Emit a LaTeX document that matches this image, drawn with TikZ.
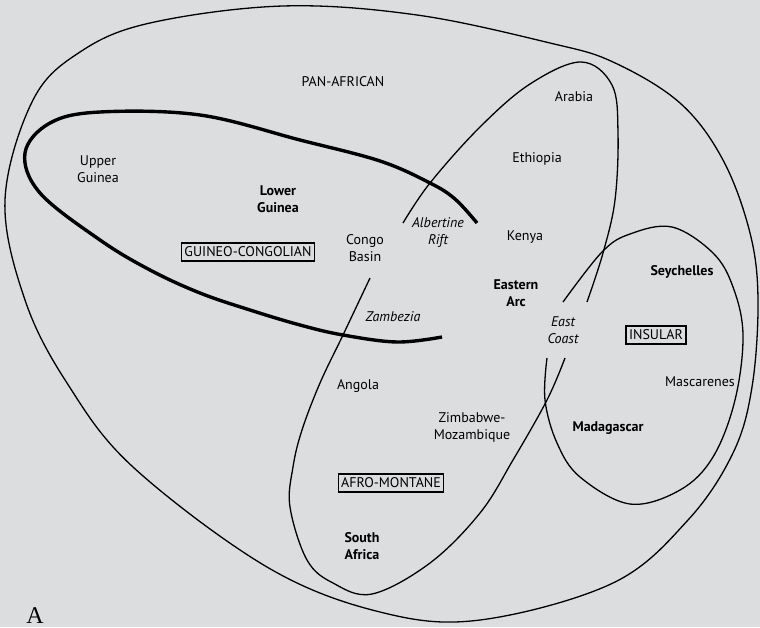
\documentclass[tikz,border=0pt]{standalone}
\usepackage{fontspec}
\setmainfont{PT Sans}
\newfontfamily\panelfont{Liberation Serif}
\definecolor{bggray}{RGB}{220,221,223}
\tikzset{
  region/.style={line width=1.3pt},
  guineo/.style={line width=3.4pt},
  place/.style={font=\fontsize{14}{17}\selectfont, align=center, inner sep=0pt},
  bplace/.style={place, font=\fontsize{14}{17}\selectfont\bfseries},
  iplace/.style={place, font=\fontsize{14}{17}\selectfont\itshape},
  realm/.style={place, draw, line width=1.2pt, inner xsep=3pt, inner ysep=4pt}
}
\begin{document}
\begin{tikzpicture}[x=1pt,y=-1pt]
\fill[bggray] (0,0) rectangle (760,627);
\useasboundingbox (0,0) rectangle (760,627);
% pan-african
\draw[region] plot[smooth cycle, tension=0.6] coordinates {
  (150,23) (283,6) (417,15) (550,43) (613,62) (680,103) (723,160) (750,233)
  (758,300) (752,387) (733,453) (688,520) (613,583) (480,620) (380,612)
  (267,567) (133,467) (67,383) (25,300) (5,200) (33,100) (80,52)};
% guineo-congolian
\draw[guineo] plot[smooth, tension=0.6] coordinates {
  (477,223) (455,199) (430,183) (380,161) (300,140) (200,115) (100,112)
  (50,123) (25,153) (40,193) (100,240) (150,270) (200,293) (250,310)
  (300,325) (343,335) (397,342) (442,337)};
% afro-montane
\draw[region] plot[smooth, tension=0.6] coordinates {
  (370,278) (343,335) (320,383) (302,430) (293,467) (290,507) (307,560)
  (333,583) (372,594) (430,563) (480,513) (513,460) (547,400) (565,358)};
\draw[region] plot[smooth, tension=0.6] coordinates {
  (587,302) (603,253) (615,200) (618,133) (612,85) (581,62) (530,84)
  (480,127) (430,183) (403,223)};
% insular
\draw[region] plot[smooth, tension=0.6] coordinates {
  (563,302) (602,252) (630,234) (672,227) (713,253) (733,287) (743,335)
  (735,400) (713,457) (680,490) (630,504) (580,477) (557,443) (545,400)
  (547,358)};
% labels
\node[place] (panafrican) at (343,82) {PAN-AFRICAN};
\node[place] (upguinea) at (98,169) {Upper\\Guinea};
\node[bplace] (lowguinea) at (278,199) {Lower\\Guinea};
\node[realm] (guineobox) at (248,252) {GUINEO-CONGOLIAN};
\node[place] (congo) at (365,248) {Congo\\Basin};
\node[iplace] (albertine) at (438,232) {Albertine\\Rift};
\node[place] (arabia) at (574,97) {Arabia};
\node[place] (ethiopia) at (537,159) {Ethiopia};
\node[place] (kenya) at (525,237) {Kenya};
\node[bplace] (easternarc) at (516,293) {Eastern\\Arc};
\node[iplace] (zambezia) at (393,317) {Zambezia};
\node[iplace] (eastcoast) at (563,330) {East\\Coast};
\node[bplace] (seychelles) at (682,272) {Seychelles};
\node[realm] (insularbox) at (656,335) {INSULAR};
\node[place] (mascarenes) at (700,382) {Mascarenes};
\node[bplace] (madagascar) at (608,428) {Madagascar};
\node[place] (angola) at (358,386) {Angola};
\node[place] (zimbabwe) at (472,427) {Zimbabwe-\\Mozambique};
\node[realm] (afrobox) at (391,483) {AFRO-MONTANE};
\node[bplace] (southafrica) at (362,546) {South\\Africa};
\node[anchor=north, inner sep=0pt, font=\panelfont\fontsize{24}{24}\selectfont] (panel) at (35,607) {A};
\end{tikzpicture}
\end{document}
